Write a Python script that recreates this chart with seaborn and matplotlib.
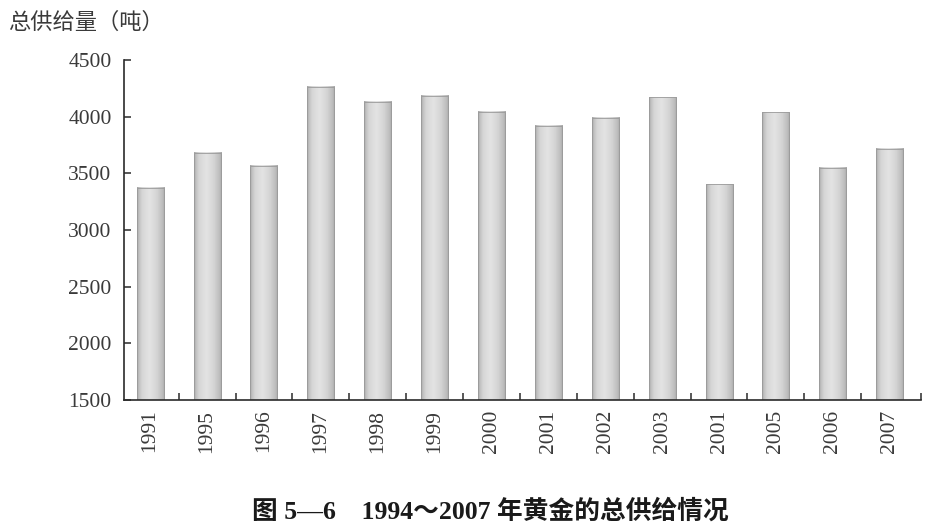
import numpy as np
import pandas as pd
import matplotlib
matplotlib.use("Agg")
import matplotlib.pyplot as plt
import seaborn as sns

# ---- data ----
year_labels = ["1991", "1995", "1996", "1997", "1998", "1999", "2000",
               "2001", "2002", "2003", "2001", "2005", "2006", "2007"]
supply = [3371, 3680, 3565, 4262, 4130, 4183, 4044,
          3920, 3991, 4171, 3403, 4039, 3550, 3715]
y_ticks = [1500, 2000, 2500, 3000, 3500, 4000, 4500]
y_label = "总供给量（吨）"
caption = "图 5—6　1994～2007 年黄金的总供给情况"

df = pd.DataFrame({"pos": list(range(len(supply))), "supply": supply})

sns.set_style("white")
plt.rcParams["font.family"] = ["Liberation Serif", "Noto Sans CJK SC", "DejaVu Sans"]

fig = plt.figure(figsize=(9.44, 5.31), dpi=100)
fig.patch.set_facecolor("white")
ax = fig.add_axes([124 / 944, 1 - 400 / 531, (921 - 124) / 944, (400 - 60) / 531])

sns.barplot(data=df, x="pos", y="supply", ax=ax, width=0.475,
            color="#d0d0d0", saturation=1, edgecolor="#9a9a9a", linewidth=0.6)

YMIN, YMAX = 1500, 4500
XMIN, XMAX = -0.46, 13.55
ax.set_ylim(YMIN, YMAX)
ax.set_xlim(XMIN, XMAX)

# cylinder-like gray shading on each bar
stops_t = [0.0, 0.06, 0.18, 0.45, 0.72, 0.92, 1.0]
stops_v = [0.64, 0.75, 0.84, 0.89, 0.83, 0.74, 0.66]
t = np.linspace(0, 1, 64)
shade = np.interp(t, stops_t, stops_v)
grad = np.tile(shade, (2, 1))
for p in list(ax.patches):
    x0, y0 = p.get_x(), p.get_y()
    w, h = p.get_width(), p.get_height()
    top = y0 + h
    ax.imshow(grad, cmap="gray", vmin=0, vmax=1, aspect="auto",
              extent=(x0, x0 + w, YMIN, top), zorder=0.9,
              interpolation="bilinear")
    p.set_facecolor("none")
ax.set_xlim(XMIN, XMAX)
ax.set_ylim(YMIN, YMAX)
ax.set_aspect("auto")

# spines
for s in ["top", "right"]:
    ax.spines[s].set_visible(False)
for s in ["left", "bottom"]:
    ax.spines[s].set_color("#2a2a2a")
    ax.spines[s].set_linewidth(1.2)

# y ticks
ax.set_yticks(y_ticks)
ax.set_yticklabels([str(v) for v in y_ticks])
ax.tick_params(axis="y", direction="in", length=5, width=1.1, color="#2a2a2a",
               pad=9, labelsize=15.5, labelcolor="#3a3a3a", left=True)

# x ticks: labels at bar centres, marks between bars
ax.set_xticks(list(range(len(year_labels))))
ax.set_xticklabels(year_labels, rotation=90)
ax.tick_params(axis="x", which="major", length=0, pad=7, labelsize=15.5,
               labelcolor="#3a3a3a", bottom=True, labelbottom=True)
minor = [i + 0.5 for i in range(len(year_labels) - 1)] + [XMAX]
ax.set_xticks(minor, minor=True)
ax.tick_params(axis="x", which="minor", direction="in", length=5, width=1.1,
               color="#2a2a2a", bottom=True)

ax.set_xlabel("")
ax.set_ylabel("")
ax.grid(False)

fig.text(8 / 944, 1 - 22 / 531, y_label, fontsize=16, color="#3a3a3a",
         family=["Noto Sans CJK SC", "DejaVu Sans"], va="center", ha="left")
fig.text(490 / 944, 1 - 511 / 531, caption, fontsize=18.5, fontweight="bold",
         color="#1a1a1a", family=["Liberation Serif", "Noto Sans CJK SC", "DejaVu Sans"],
         va="center", ha="center")

fig.savefig("out.png", dpi=100, facecolor="white")
